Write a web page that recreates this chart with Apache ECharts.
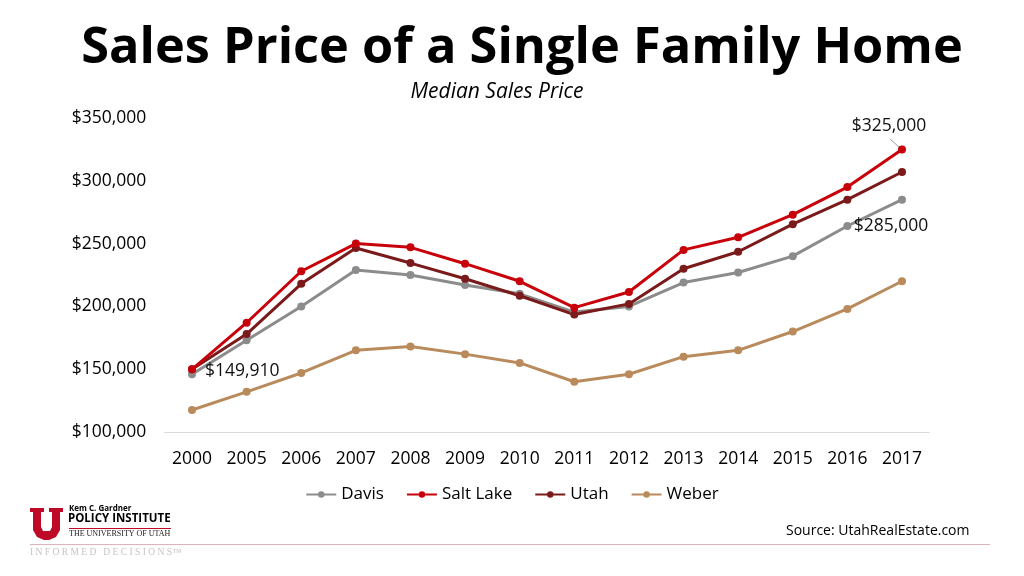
<!DOCTYPE html>
<html><head><meta charset="utf-8">
<script src="https://cdn.jsdelivr.net/npm/echarts@6/dist/echarts.min.js"></script>
<style>html,body{margin:0;padding:0;background:#fff}#c{width:1024px;height:576px}</style>
</head><body><div id="c"></div>
<script>
const years = ['2000','2005','2006','2007','2008','2009','2010','2011','2012','2013','2014','2015','2016','2017'];
const davis    = [146000,173000,200000,229000,225000,217000,210000,195500,200000,219000,227000,240000,264000,285000];
const saltLake = [149910,187000,228000,250000,247000,234000,220000,199000,211500,245000,255000,273000,295000,325000];
const utah     = [150000,178000,218000,246500,234500,222000,208500,193500,202000,230000,243500,265500,285000,307000];
const weber    = [117500,132000,147000,165000,168000,162000,155000,140000,146000,160000,165000,180000,198000,220000];
const seriesNames = ['Davis','Salt Lake','Utah','Weber'];
const colors = ['#8c8c8c','#c8000a','#7a1a1a','#b98b5c'];

const font = '"Open Sans", sans-serif';
const fmt = v => '$' + v.toLocaleString('en-US');

function mk(name, data, color, labels) {
  return {
    name, type:'line', data: data.map((v,i)=>{
      const it = {value:v};
      if (labels && labels[i]) it.label = Object.assign({show:true, formatter: p=>fmt(p.value), color:'#111', fontSize:17.5, fontFamily:font}, labels[i]);
      return it;
    }),
    symbol:'circle', symbolSize:8, lineStyle:{width:3,color}, itemStyle:{color},
    z: name==='Salt Lake'?5:3
  };
}
const chart = echarts.init(document.getElementById('c'));
chart.setOption({
  animation:false,
  title:[
    {text:'Sales Price of a Single Family Home', left:517, top:18, textAlign:'center',
     textStyle:{fontFamily:font, fontWeight:'bold', fontSize:50.5, color:'#000'}},
    {text:'Median Sales Price', left:492, top:77, textAlign:'center',
     textStyle:{fontFamily:font, fontStyle:'italic', fontWeight:'normal', fontSize:21, color:'#000'}}
  ],
  grid:{left:164.7, right:94.7, top:118, bottom:144, containLabel:false},
  legend:{bottom:68, left:'center', itemWidth:30, itemHeight:8, itemGap:22,
    textStyle:{fontFamily:font, fontSize:17, color:'#000'}, data:seriesNames},
  xAxis:{type:'category', data:years, boundaryGap:true,
    axisLine:{lineStyle:{color:'#d9d9d9'}}, axisTick:{show:false},
    axisLabel:{fontFamily:font, fontSize:17.5, color:'#000', margin:18}},
  yAxis:{type:'value', min:100000, max:350000, interval:50000,
    axisLine:{show:false}, axisTick:{show:false}, splitLine:{show:false},
    axisLabel:{fontFamily:font, fontSize:17.5, color:'#000', align:'left', margin:93, formatter:v=>fmt(v)}},
  series:[
    mk('Davis', davis, colors[0], {13:{position:'bottom', offset:[-11,8]}}),
    mk('Salt Lake', saltLake, colors[1], {0:{position:'right', offset:[4,2]}, 13:{position:'top', offset:[-13,-5]}}),
    mk('Utah', utah, colors[2]),
    mk('Weber', weber, colors[3])
  ],
  graphic:[
    {type:'line', shape:{x1:890,y1:139,x2:899,y2:147}, style:{stroke:'#999', lineWidth:1}},
    {type:'polygon', shape:{points:[[30,508],[44,508],[44,512],[41,512],[41,527],[43,531],[50,531],[52,527],[52,512],[49,512],[49,508],[63,508],[63,512],[60,512],[60,530],[56,537],[49,540],[44,540],[37,537],[33,530],[33,512],[30,512]]}, style:{fill:'#be0a26'}},
    {type:'text', left:69, top:505, style:{text:'Kem C. Gardner', font:'bold 8px "Open Sans"', fill:'#000'}},
    {type:'text', left:68, top:513, style:{text:'POLICY INSTITUTE', font:'bold 11.5px "Open Sans"', fill:'#000'}},
    {type:'line', shape:{x1:69,y1:528.5,x2:171,y2:528.5}, style:{stroke:'#be0a26', lineWidth:1}},
    {type:'text', left:69, top:530, style:{text:'THE UNIVERSITY OF UTAH', font:'8px "Liberation Serif"', fill:'#222'}},
    {type:'line', shape:{x1:30,y1:544.5,x2:990,y2:544.5}, style:{stroke:'#e0b3ba', lineWidth:1}},
    {type:'text', left:30, top:547, style:{text:'I N F O R M E D   D E C I S I O N S™', font:'9.5px "Liberation Serif"', fill:'#c4c4c4'}},
    {type:'text', left:786, top:524, style:{text:'Source: UtahRealEstate.com', font:'14px "Open Sans"', fill:'#000'}}
  ]
});
</script></body></html>
